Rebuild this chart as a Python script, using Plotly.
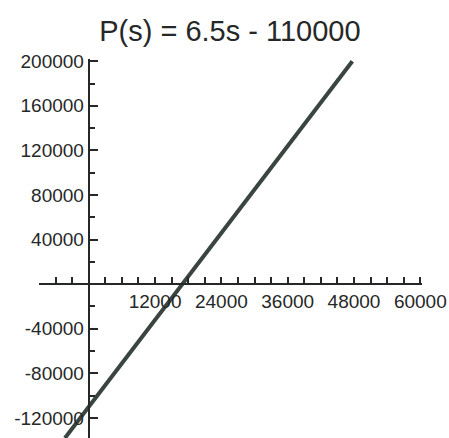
import plotly.graph_objects as go

# Data
s_vals = [-4300, 0, 16900, 47700]
p_vals = [-138000, -110000, 0, 200000]

x_range = [-9000, 60300]
y_range = [-138000, 202000]

x_tick_vals = list(range(-9000, 60001, 3000))
x_label_vals = [12000, 24000, 36000, 48000, 60000]
x_tick_text = [str(v) if v in x_label_vals else "" for v in x_tick_vals]

y_label_vals = [-120000, -80000, -40000, 40000, 80000, 120000, 160000, 200000]
y_minor_vals = [-140000, -100000, -60000, -20000, 20000, 60000, 100000, 140000, 180000]

title_text = "P(s) = 6.5s - 110000"

ink = "#262827"
font_family = "Liberation Sans, Arial, sans-serif"

fig = go.Figure()
fig.add_trace(go.Scatter(
    x=s_vals, y=p_vals, mode="lines",
    line=dict(color="#3b4540", width=4),
    hoverinfo="skip", showlegend=False, cliponaxis=True,
))

x_pos = (0 - y_range[0]) / (y_range[1] - y_range[0])
y_pos = (0 - x_range[0]) / (x_range[1] - x_range[0])

fig.update_layout(
    width=449, height=438,
    margin=dict(l=39, r=27, t=59, b=0),
    paper_bgcolor="white", plot_bgcolor="white",
    title=dict(text=title_text, x=0.512, xanchor="center", y=1 - 31 / 438, yanchor="middle",
               font=dict(family=font_family, size=29, color=ink)),
    xaxis=dict(
        range=x_range, anchor="free", position=x_pos, side="bottom",
        showgrid=False, zeroline=False,
        showline=True, linecolor=ink, linewidth=2,
        tickmode="array", tickvals=x_tick_vals, ticktext=x_tick_text,
        ticks="inside", ticklen=6, tickwidth=1.5, tickcolor=ink,
        tickfont=dict(family=font_family, size=19, color=ink),
    ),
    yaxis=dict(
        range=y_range, anchor="free", position=y_pos, side="left",
        showgrid=False, zeroline=False,
        showline=True, linecolor=ink, linewidth=2,
        tickmode="array", tickvals=y_label_vals, ticktext=[str(v) for v in y_label_vals],
        ticks="inside", ticklen=8, tickwidth=1.5, tickcolor=ink,
        tickfont=dict(family=font_family, size=19, color=ink),
        minor=dict(tickvals=y_minor_vals, ticks="inside", ticklen=5, tickwidth=1.5, tickcolor=ink, showgrid=False),
    ),
)

fig.write_html("out.html", config={"displayModeBar": False},
               post_script="document.body.style.margin='0';document.body.style.overflow='hidden';")
